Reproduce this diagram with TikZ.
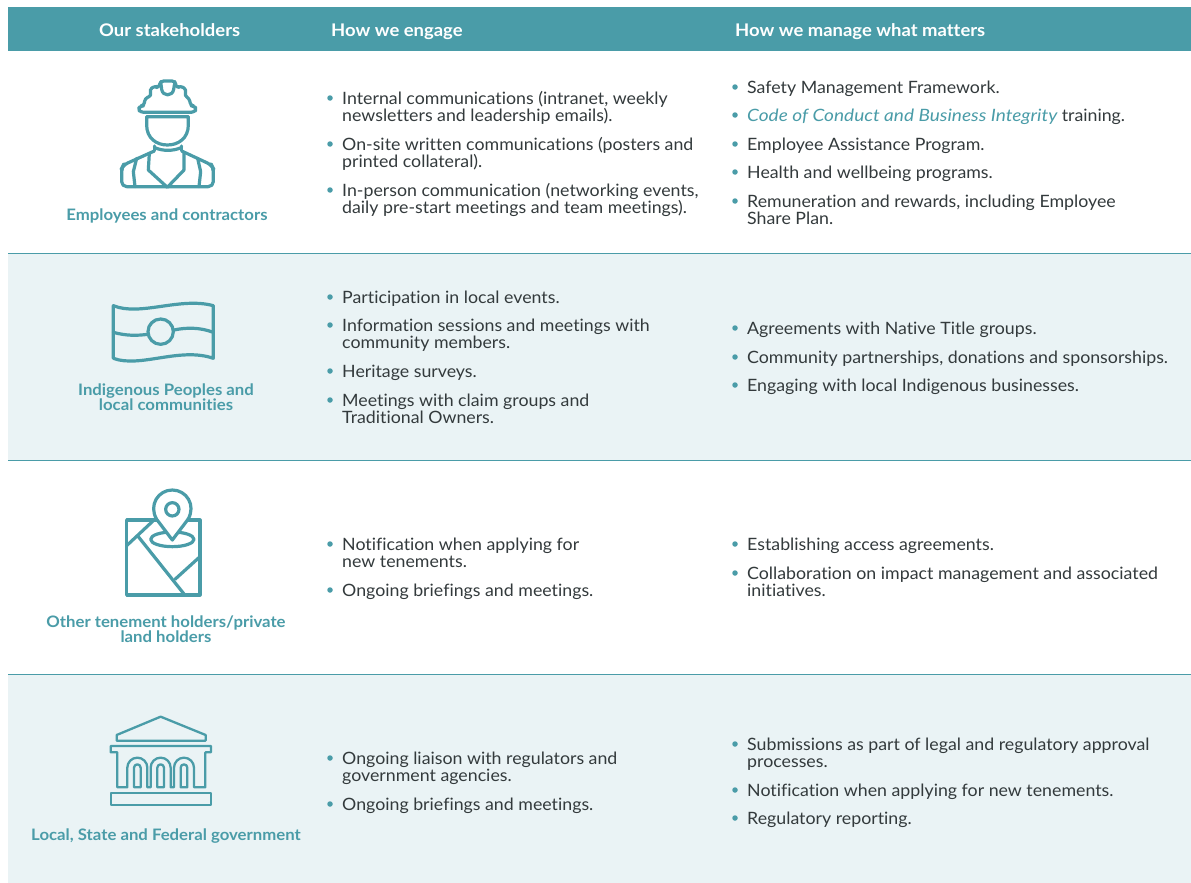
\documentclass[tikz,border=0pt]{standalone}
\usepackage{fontspec}
\setmainfont{Lato}[Ligatures=NoCommon,FakeStretch=1.045,ItalicFeatures={FakeStretch=1.12},BoldFeatures={FakeStretch=1.06}]
\definecolor{teal1}{HTML}{4A9CA8}
\definecolor{tint1}{HTML}{EAF3F5}
\definecolor{ink1}{HTML}{333A3C}
\newcommand{\tightlines}{\lineskip=0pt \lineskiplimit=-20pt\relax}
\newcommand{\firststrut}{\vrule height13pt depth0pt width0pt\relax}
\tikzset{
  hdr/.style={anchor=base west,inner sep=0,text=white,font=\fontsize{17.4}{17}\selectfont\bfseries},
  btxt/.style={anchor=north west,inner sep=0,align=left,text=ink1,font=\fontsize{17}{17.4}\selectfont\tightlines},
  dot1/.style={circle,fill=teal1,inner sep=0,minimum size=5.5pt},
  lab/.style={inner sep=0,align=center,text=teal1,font=\fontsize{15.8}{15}\selectfont\bfseries},
  ico/.style={draw=teal1,line width=3.2pt,line join=round,line cap=round},
  rule1/.style={draw=teal1,line width=0.7pt}
}
\newcommand{\bitem}[4]{% name, text x, first line centre y, text
  \node[dot1] (#1d) at (#2-12,#3) {};
  \node[btxt] (#1) at (#2,#3-7) {\firststrut #4};
}
\begin{document}
\begin{tikzpicture}[x=1pt,y=-1pt]
\useasboundingbox (0,0) rectangle (1191,883);
\fill[white] (0,0) rectangle (1191,883);
\fill[teal1] (8,7) rectangle (1191,51);
\fill[tint1] (8,253) rectangle (1191,460);
\fill[tint1] (8,674) rectangle (1191,883);
\draw[rule1] (8,253) -- (1191,253);
\draw[rule1] (8,460) -- (1191,460);
\draw[rule1] (8,674) -- (1191,674);

\node[hdr] (h1) at (99,36.7) {Our stakeholders};
\node[hdr] (h2) at (331,36.7) {How we engage};
\node[hdr] (h3) at (735,36.7) {How we manage what matters};

% Row 1
\node[lab] (l1) at (167,216) {Employees and contractors};
\bitem{a1}{342}{98}{Internal communications (intranet, weekly\\newsletters and leadership emails).}
\bitem{a2}{342}{144}{On-site written communications (posters and\\printed collateral).}
\bitem{a3}{342}{190}{In-person communication (networking events,\\daily pre-start meetings and team meetings).}
\bitem{b1}{747}{87}{Safety Management Framework.}
\bitem{b2}{747}{115}{\textcolor{teal1}{\itshape Code of Conduct and Business Integrity} training.}
\bitem{b3}{747}{144}{Employee Assistance Program.}
\bitem{b4}{747}{172}{Health and wellbeing programs.}
\bitem{b5}{747}{201}{Remuneration and rewards, including Employee\\Share Plan.}

% Row 2
\node[lab] (l2) at (166,397) {Indigenous Peoples and\\local communities};
\bitem{c1}{342}{297}{Participation in local events.}
\bitem{c2}{342}{325}{Information sessions and meetings with\\community members.}
\bitem{c3}{342}{371}{Heritage surveys.}
\bitem{c4}{342}{400}{Meetings with claim groups and\\Traditional Owners.}
\bitem{d1}{747}{328}{Agreements with Native Title groups.}
\bitem{d2}{747}{357}{Community partnerships, donations and sponsorships.}
\bitem{d3}{747}{385}{Engaging with local Indigenous businesses.}

% Row 3
\node[lab] (l3) at (166,629) {Other tenement holders/private\\land holders};
\bitem{e1}{342}{544}{Notification when applying for\\new tenements.}
\bitem{e2}{342}{590}{Ongoing briefings and meetings.}
\bitem{f1}{747}{544}{Establishing access agreements.}
\bitem{f2}{747}{573}{Collaboration on impact management and associated\\initiatives.}

% Row 4
\node[lab] (l4) at (166,836) {Local, State and Federal government};
\bitem{g1}{342}{758}{Ongoing liaison with regulators and\\government agencies.}
\bitem{g2}{342}{804}{Ongoing briefings and meetings.}
\bitem{k1}{747}{744}{Submissions as part of legal and regulatory approval\\processes.}
\bitem{k2}{747}{790}{Notification when applying for new tenements.}
\bitem{k3}{747}{818}{Regulatory reporting.}

% Worker icon
\begin{scope}[shift={(100,70)},x=0.3333pt,y=-0.3333pt]
\draw[ico,rounded corners=3pt] (122,127) -- (282,127) -- (290,117) -- (282,108) -- (272,107) -- (268,85) -- (253,77) -- (260,60) -- (242,47) -- (230,55) -- (225,33) -- (182,33) -- (175,55) -- (165,47) -- (148,60) -- (155,77) -- (135,85) -- (132,107) -- (122,108) -- (114,117) -- cycle;
\draw[ico] (182,35) -- (185,58) .. controls (188,80) and (218,80) .. (221,58) -- (225,35);
\draw[ico] (140,140) -- (140,165) .. controls (140,205) and (170,225) .. (202,225) .. controls (235,225) and (265,205) .. (265,165) -- (265,140) -- cycle;
\draw[ico] (163,228) -- (163,242);
\draw[ico] (163,232) .. controls (185,244) and (222,244) .. (245,232);
\draw[ico] (245,228) -- (245,242);
\draw[ico,rounded corners=5pt] (163,243) -- (70,285) -- (65,295) -- (65,350) -- (340,350) -- (340,295) -- (335,285) -- (245,243);
\draw[ico] (110,265) -- (100,305) -- (105,350);
\draw[ico] (293,265) -- (302,305) -- (297,350);
\draw[ico] (148,250) -- (145,300) -- (202,352) -- (252,300) -- (252,250);
\end{scope}

% Flag icon
\begin{scope}[shift={(100,290)},x=0.3333pt,y=-0.3333pt]
\draw[ico] (40,205) -- (40,47) .. controls (120,80) and (240,20) .. (340,47) -- (340,205) .. controls (240,170) and (120,235) .. (40,205);
\draw[ico] (40,127) .. controls (80,138) and (110,137) .. (144,133);
\draw[ico] (222,120) .. controls (260,112) and (300,112) .. (340,127);
\draw[ico] (182,125) circle[radius=38];
\end{scope}

% Map icon
\begin{scope}[shift={(110,480)},x=0.3333pt,y=-0.3333pt]
\draw[ico] (50,120) rectangle (270,345);
\draw[ico] (50,197) -- (130,122);
\draw[ico] (85,170) -- (222,342);
\draw[ico] (195,298) -- (270,230);
\draw[ico,fill=white] (187,178) circle[x radius=65,y radius=22];
\draw[ico,fill=white] (187,180) -- (140,118) .. controls (115,75) and (145,30) .. (187,30) .. controls (229,30) and (259,75) .. (234,118) -- cycle;
\draw[ico] (187,88) circle[radius=20];
\end{scope}

% Government icon
\begin{scope}[shift={(100,705)},x=0.3333pt,y=-0.3333pt]
\tikzset{ico/.append style={line width=2.3pt}}
\draw[ico] (50,90) -- (182,35) -- (317,90) -- (317,107) -- (50,107) -- cycle;
\draw[ico] (32,123) -- (333,123) -- (333,142) -- (316,142) -- (316,247) -- (282,247) -- (282,188) arc[start angle=0,end angle=180,x radius=30,y radius=-30] -- (222,247) -- (212,247) -- (212,188) arc[start angle=0,end angle=180,x radius=30,y radius=-30] -- (152,247) -- (142,247) -- (142,188) arc[start angle=0,end angle=180,x radius=30,y radius=-30] -- (82,247) -- (52,247) -- (52,142) -- (32,142) -- cycle;
\draw[ico] (102,247) -- (102,188) arc[start angle=180,end angle=0,x radius=10,y radius=-10] -- (122,247) -- cycle;
\draw[ico] (172,247) -- (172,188) arc[start angle=180,end angle=0,x radius=10,y radius=-10] -- (192,247) -- cycle;
\draw[ico] (242,247) -- (242,188) arc[start angle=180,end angle=0,x radius=10,y radius=-10] -- (262,247) -- cycle;
\draw[ico] (32,263) rectangle (333,300);
\end{scope}
\end{tikzpicture}
\end{document}
